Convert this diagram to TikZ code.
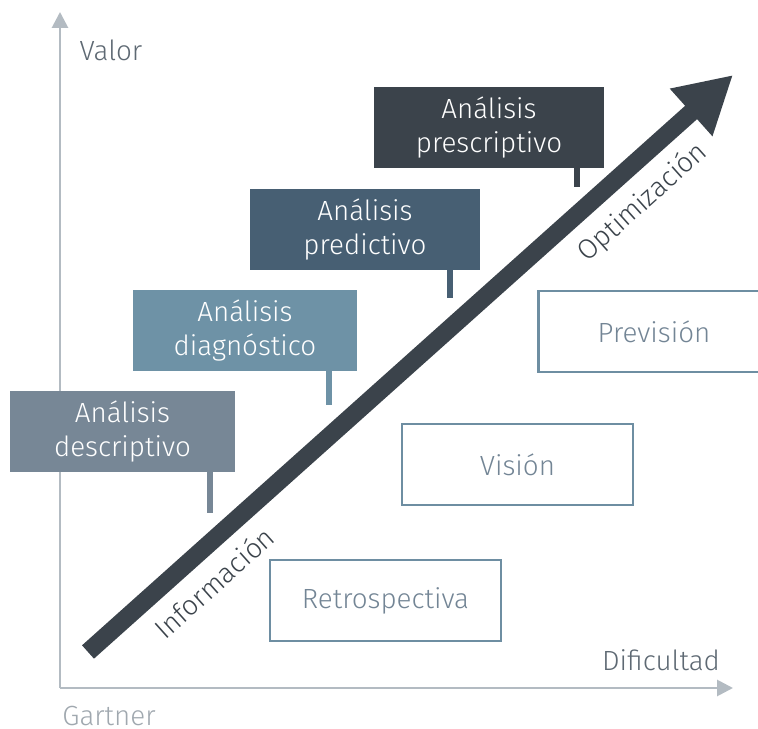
\documentclass[tikz,border=0pt]{standalone}
\usepackage{fontspec}
\setmainfont{Fira Sans}[UprightFont={* Light}]
\usetikzlibrary{arrows.meta}
\definecolor{axisgray}{HTML}{B3BBC2}
\definecolor{labelgray}{HTML}{5E6973}
\definecolor{notegray}{HTML}{A0A8AF}
\definecolor{descfill}{HTML}{778796}
\definecolor{diagfill}{HTML}{6E92A6}
\definecolor{predfill}{HTML}{475F73}
\definecolor{prescfill}{HTML}{3B434B}
\definecolor{outline}{HTML}{6E8EA2}
\definecolor{outtext}{HTML}{738595}
\begin{document}
\begin{tikzpicture}[x=0.02cm, y=-0.02cm,
    font=\fontsize{15.8}{18.8}\selectfont,
    axis/.style={draw=axisgray, line width=1.6pt, -{Triangle[length=9pt,width=9pt]}},
    kind/.style={rectangle, minimum height=1.62cm, text=white, align=center, inner sep=0pt},
    stage/.style={rectangle, draw=outline, line width=1.4pt, minimum height=1.62cm,
      minimum width=4.62cm, text=outtext, inner sep=0pt},
    stem/.style={line width=3.4pt}]
  \useasboundingbox (0,0) rectangle (758,729);
  % axes
  \coordinate (origin) at (60,688);
  \coordinate (ytop) at (60,12);
  \coordinate (xend) at (733,688);
  \draw[axis] (origin) -- (ytop);
  \draw[axis] (origin) -- (xend);
  \node[text=labelgray] (valor) at (111,50) {Valor};
  \node[text=labelgray] (dific) at (661,660) {Dificultad};
  \node[text=notegray] (src) at (109,716) {Gartner};
  % boxes
  \node[kind, fill=descfill, minimum width=4.5cm] (desc) at (122.5,431.5) {Análisis\\descriptivo};
  \node[kind, fill=diagfill, minimum width=4.48cm] (diag) at (245,330.5) {Análisis\\diagnóstico};
  \node[kind, fill=predfill, minimum width=4.6cm] (pred) at (365,229.5) {Análisis\\predictivo};
  \node[kind, fill=prescfill, minimum width=4.6cm] (presc) at (489,127.5) {Análisis\\prescriptivo};
  \node[stage] (retro) at (385.5,600.5) {Retrospectiva};
  \node[stage] (vision) at (517.5,464.5) {Visión};
  \node[stage] (prev) at (654,331.5) {Previsión};
  % stems
  \coordinate (descend) at (210,513);
  \coordinate (diagend) at (329,405);
  \coordinate (predend) at (450,298);
  \coordinate (prescend) at (577,187);
  \begin{scope}[stem]
    \draw[descfill] (desc.south -| descend) to (descend);
    \draw[diagfill] (diag.south -| diagend) to (diagend);
    \draw[predfill] (pred.south -| predend) to (predend);
    \draw[prescfill] (presc.south -| prescend) to (prescend);
  \end{scope}
  % main arrow
  \coordinate (start) at (88,652);
  \coordinate (tip) at (733,75);
  \draw[prescfill, line width=10.2pt, -{Triangle[length=32pt,width=34pt]}]
    (start) -- (tip)
    node[pos=0.162, sloped, below=7pt, inner sep=0pt, text=prescfill] (info) {Información}
    node[pos=0.824, sloped, below=7pt, inner sep=0pt, text=prescfill] (optim) {Optimización};
\end{tikzpicture}
\end{document}
